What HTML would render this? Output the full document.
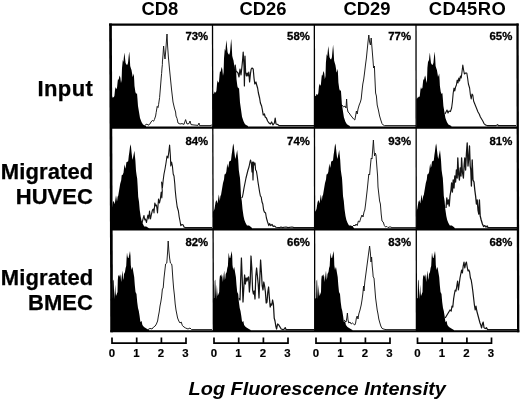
<!DOCTYPE html>
<html lang="en"><head><meta charset="utf-8"><title>Log Fluorescence Intensity histograms</title>
<style>
html,body{margin:0;padding:0;background:#fff;}
body{width:520px;height:402px;overflow:hidden;}
svg{display:block;}
svg text{font-family:"Liberation Sans",Arial,Helvetica,sans-serif;font-weight:bold;fill:#000;}
.f{fill:#000;stroke:none;}
.l{fill:none;stroke:#141414;stroke-linejoin:round;}
.ti{font-size:18.4px;text-anchor:middle;}
.pc{font-size:11.4px;text-anchor:end;stroke:#000;stroke-width:0.3px;}
.ax{font-size:11.4px;text-anchor:middle;stroke:#000;stroke-width:0.2px;}
.rl{font-size:22px;text-anchor:end;stroke:#000;stroke-width:0.25px;}
.xl{font-size:18px;font-style:italic;}
</style></head><body>
<svg width="520" height="402" viewBox="0 0 520 402">
<rect width="520" height="402" fill="#fff"/>
<defs>
<clipPath id="c00"><rect x="110.5" y="24.6" width="102.3" height="103"/></clipPath>
<clipPath id="c01"><rect x="212.8" y="24.6" width="101.8" height="103"/></clipPath>
<clipPath id="c02"><rect x="314.6" y="24.6" width="101.6" height="103"/></clipPath>
<clipPath id="c03"><rect x="416.2" y="24.6" width="101.8" height="103"/></clipPath>
<clipPath id="c10"><rect x="110.5" y="127.6" width="102.3" height="101.7"/></clipPath>
<clipPath id="c11"><rect x="212.8" y="127.6" width="101.8" height="101.7"/></clipPath>
<clipPath id="c12"><rect x="314.6" y="127.6" width="101.6" height="101.7"/></clipPath>
<clipPath id="c13"><rect x="416.2" y="127.6" width="101.8" height="101.7"/></clipPath>
<clipPath id="c20"><rect x="110.5" y="229.3" width="102.3" height="102"/></clipPath>
<clipPath id="c21"><rect x="212.8" y="229.3" width="101.8" height="102"/></clipPath>
<clipPath id="c22"><rect x="314.6" y="229.3" width="101.6" height="102"/></clipPath>
<clipPath id="c23"><rect x="416.2" y="229.3" width="101.8" height="102"/></clipPath>
</defs>
<g id="histograms">
<g clip-path="url(#c00)">
<path class="f" d="M110.5,128 L110.5,99 L112.2,98 L112.6,96.5 L113.5,97.5 L114.4,96 L115,90 L115.6,87 L116.2,89 L117,88 L117.6,82 L118,79 L118.6,80 L119.2,77 L119.8,75.5 L120.4,78 L121,83 L121.6,80 L122,68 L122.8,60 L123.4,62 L124,56 L124.5,52.5 L125,58 L125.6,63 L126.4,64.5 L127.2,65 L128,63 L128.6,57 L129.2,51.5 L129.7,57 L130.2,66 L130.8,68 L131.5,70 L132.2,74 L132.6,77 L133.2,75.5 L133.8,73.5 L134.2,80 L134.5,86 L135.4,92 L136.2,94 L137,93 L137.4,98 L138,106 L139,112 L140,118 L141.5,122 L143,124.5 L145,125.5 L146,126 L146,128Z"/>
<path class="l" stroke-width="0.95" d="M145,125.2 L147,124 L148,125.2 L149.6,124.4 L151,122 L152.4,120.4 L153.6,121.2 L154.4,119.6 L155.6,116 L156.2,112.4 L157.2,106.4 L158,107.6 L158.6,104.4 L159.6,97.6 L160.4,88 L161.2,78 L161.6,73.6 L162,68 L162.4,64.4 L162.4,62 L163,55 L163.6,46 L164.3,54 L165,59 L165.8,50 L166.5,40 L167,34 L167.6,46 L168.4,57 L169.4,68 L170.4,78 L171.6,90 L173,102 L174.4,108 L175.6,112 L176,116 L177,118.4 L178,123 L180,124 L182,123.6 L184,124.4 L185.6,119.6 L187,124 L189,123.6 L190,121 L191,124.6 L194,125 L198,125.4 L199,123 L199.6,125.6 L210,125.6 L212,125"/>
</g>
<g clip-path="url(#c01)">
<path class="f" d="M212.8,128 L212.8,94.24 L214.2,93.24 L214.6,91.48 L215.5,92.66 L216.4,90.9 L217,83.88 L217.6,80.37 L218.2,82.71 L219,81.54 L219.6,74.52 L220,71.01 L220.6,72.18 L221.2,68.67 L221.8,66.92 L222.4,69.84 L223,75.69 L223.6,72.18 L224,58.14 L224.8,48.78 L225.4,51.12 L226,44.1 L226.5,40.01 L227,46.44 L227.6,52.29 L228.4,54.05 L229.2,54.63 L230,52.29 L230.6,45.27 L231.2,38.84 L231.7,45.27 L232.2,55.8 L232.8,58.14 L233.5,60.48 L234.2,65.16 L234.6,68.67 L235.2,66.92 L235.8,64.58 L236.2,72.18 L236.5,79.2 L237.4,86.22 L238.2,88.56 L239,87.39 L239.4,93.24 L240,102.6 L241,109.62 L242,116.64 L243.5,121.32 L245,124.25 L247,125.42 L248,126 L248,128Z"/>
<path class="l" stroke-width="1.2" d="M234.4,69 L235.2,65 L236,71 L237,72 L238,73 L239,77 L240,69 L241,75 L242,66 L242.6,60 L243.2,52 L244,66 L244.4,86 L245,56 L245.6,72 L246.4,76 L247.2,73 L248,76 L248.8,72 L249.6,82 L250.4,74 L251.2,69 L252,68 L253.2,69 L254,78 L254.8,84 L256,82 L256.4,84 L257.6,88 L258.4,93 L259.6,98 L260.4,103 L261.6,106 L262.4,110 L263.2,115 L264.4,114 L265.2,117 L266.4,118 L267.6,121 L269,123 L270.4,124 L271.6,122 L273,125 L274.4,123 L275.2,118 L276,124 L278,124.6 L279,125.6 L292,125.6 L314,125.6"/>
</g>
<g clip-path="url(#c02)">
<path class="f" d="M314.6,128 L314.6,96.48 L316.1,95.48 L316.5,93.84 L317.4,94.94 L318.3,93.3 L318.9,86.76 L319.5,83.49 L320.1,85.67 L320.9,84.58 L321.5,78.04 L321.9,74.77 L322.5,75.86 L323.1,72.59 L323.7,70.95 L324.3,73.68 L324.9,79.13 L325.5,75.86 L325.9,62.78 L326.7,54.06 L327.3,56.24 L327.9,49.7 L328.4,45.88 L328.9,51.88 L329.5,57.33 L330.3,58.96 L331.1,59.51 L331.9,57.33 L332.5,50.79 L333.1,44.79 L333.6,50.79 L334.1,60.6 L334.7,62.78 L335.4,64.96 L336.1,69.32 L336.5,72.59 L337.1,70.95 L337.7,68.78 L338.1,75.86 L338.4,82.4 L339.3,88.94 L340.1,91.12 L340.9,90.03 L341.3,95.48 L341.9,104.2 L342.9,110.74 L343.9,117.28 L345.4,121.64 L346.9,124.36 L348.9,125.45 L349.9,126 L349.9,128Z"/>
<path class="l" stroke-width="0.95" d="M342,105 L343.6,107 L345,106 L346,108 L346.6,99 L347.2,108 L348,112 L349.2,113 L350.4,115 L352,117 L353.6,119 L354.8,120 L355.6,116 L356.4,111 L357.2,114 L358,109 L359.2,105 L360.4,102 L361.2,99 L362,91 L362.8,84 L363.6,80 L364.4,74 L365.6,64 L366.4,58 L367.2,50 L368,42 L368.8,35 L369.6,42 L370.4,45 L371.2,38 L372,48 L372.8,58 L373.6,68 L374.4,66 L374.8,76 L375.6,93 L376.4,96 L377.2,105 L378.4,110 L379.6,116 L380.8,120 L382,123.6 L383.2,125 L384.4,125.6 L416,125.6"/>
</g>
<g clip-path="url(#c03)">
<path class="f" d="M416.2,128 L416.2,99 L417.6,98 L418,96.5 L418.9,97.5 L419.8,96 L420.4,90 L421,87 L421.6,89 L422.4,88 L423,82 L423.4,79 L424,80 L424.6,77 L425.2,75.5 L425.8,78 L426.4,83 L427,80 L427.4,68 L428.2,60 L428.8,62 L429.4,56 L429.9,52.5 L430.4,58 L431,63 L431.8,64.5 L432.6,65 L433.4,63 L434,57 L434.6,51.5 L435.1,57 L435.6,66 L436.2,68 L436.9,70 L437.6,74 L438,77 L438.6,75.5 L439.2,73.5 L439.6,80 L439.9,86 L440.8,92 L441.6,94 L442.4,93 L442.8,98 L443.4,106 L444.4,112 L445.4,118 L446.9,122 L448.4,124.5 L450.4,125.5 L451.4,126 L451.4,128Z"/>
<path class="l" stroke-width="1.1" d="M445,114 L446,112 L447,110 L448,113 L449,111 L450.4,111.6 L451.6,108 L452.4,102 L453.2,93 L454,88 L454.8,91 L455.6,87 L456.4,85 L457.2,80 L458,83 L458.8,78 L459.6,81 L460.4,76 L461.2,78 L462,72 L462.8,65 L463.6,70 L464.4,74 L465.6,73 L466.8,73 L467.6,78 L468.4,84 L469.6,88 L470.4,95 L471.2,99 L472,94 L472.8,95 L473.6,101 L474.4,103 L475.6,106 L476.8,109 L478,112 L479.2,114 L480.4,117 L481.6,119 L482.8,121 L484,123.6 L485.6,125 L487.2,125.6 L496,125.6 L497.6,124.6 L498.4,125.6 L516,125.6"/>
</g>
<g clip-path="url(#c10)">
<path class="f" d="M110.5,230 L110.5,212.8 L110.8,211.8 L111.7,209.8 L112.8,202.8 L113.7,200.8 L114.7,204.3 L115.5,198.8 L116,195.3 L116.6,198.8 L117,201.8 L117.6,196.8 L118.2,195.8 L119.2,189.8 L120.2,183.8 L121.2,180.3 L121.7,175.3 L122.7,174.8 L123.5,172.8 L124.2,166.8 L124.7,164.3 L125.2,168.8 L125.8,166.8 L126.4,162.3 L127.4,161.8 L128.2,161.3 L128.8,155.8 L129.4,151.8 L130,146.8 L130.5,144.3 L131,146.8 L131.6,152.8 L132.2,157.8 L132.7,159.8 L133.2,156.8 L133.8,153.8 L134.4,150.8 L134.9,155.8 L135.4,160.8 L136,170.8 L136.7,175.8 L137.2,178.8 L137.7,186.8 L138.2,196.8 L139,201.8 L139.7,209.8 L140.7,216.8 L141.6,220.8 L142.8,223.8 L144.2,226.4 L146.2,226.4 L148.2,227.8 L149.2,228.8 L149.2,230Z"/>
<path class="l" stroke-width="1.1" d="M142,223 L143,219 L144,215.5 L144.8,220 L145.5,219 L146.5,222.5 L147.5,217 L148,215 L148.8,219 L149.5,211 L150.5,219 L151.5,214 L152.5,210 L153.5,209 L154,213 L154.8,203 L155.8,206 L156.5,205 L157.5,213 L158.5,199 L159.5,203 L160.2,200 L161.2,192 L161.8,198 L162.3,191 L161.6,182 L162.4,188 L163.2,180 L164,174 L165,169 L166,163 L167,156 L168,158 L168.8,152 L169.6,145 L170.4,156 L170.8,166 L171.6,162 L172.4,166 L173.2,174 L174,176 L174.8,184 L175.2,190 L176,198 L177.2,207 L178.4,211 L179.2,217 L180,221 L180.8,225.6 L182,224.4 L183.2,225 L184,227 L185.2,227.6 L212,227.6"/>
</g>
<g clip-path="url(#c11)">
<path class="f" d="M212.8,230 L212.8,212 L213.6,211 L214.5,209 L215.6,202 L216.5,200 L217.5,203.5 L218.3,198 L218.8,194.5 L219.4,198 L219.8,201 L220.4,196 L221,195 L222,189 L223,183 L224,179.5 L224.5,174.5 L225.5,174 L226.3,172 L227,166 L227.5,163.5 L228,168 L228.6,166 L229.2,161.5 L230.2,161 L231,160.5 L231.6,155 L232.2,151 L232.8,146 L233.3,143.5 L233.8,146 L234.4,152 L235,157 L235.5,159 L236,156 L236.6,153 L237.2,150 L237.7,155 L238.2,160 L238.8,170 L239.5,175 L240,178 L240.5,186 L241,196 L241.8,201 L242.5,209 L243.5,216 L244.4,220 L245.6,223 L247,225.6 L249,225.6 L251,227 L252,228 L252,230Z"/>
<path class="l" stroke-width="1.15" d="M241.6,198 L242.4,197 L243.2,193 L244,188 L245,183 L246,178 L247,174 L248,170 L249,167 L250,162 L250.6,160 L251.4,164 L252,172 L252.4,162 L253,180 L253.6,162 L254.4,165 L255,163 L255.6,170 L256.4,171 L257.2,176 L258,182 L258.8,187 L259.6,192 L260.4,196 L261.2,197 L262,202 L262.8,204 L263.6,210 L264.4,212 L265.6,213 L266.4,218 L267.6,222 L268.8,225.6 L269.6,223.6 L270.8,225.6 L272,224.4 L273.2,226.4 L274.4,226 L276,227.2 L280,227.6 L281,227 L282,227.6 L286,227 L288,227.6 L292,227 L294,227.6 L314,227.6"/>
</g>
<g clip-path="url(#c12)">
<path class="f" d="M314.6,230 L314.6,212 L315.6,211 L316.5,209 L317.6,202 L318.5,200 L319.5,203.5 L320.3,198 L320.8,194.5 L321.4,198 L321.8,201 L322.4,196 L323,195 L324,189 L325,183 L326,179.5 L326.5,174.5 L327.5,174 L328.3,172 L329,166 L329.5,163.5 L330,168 L330.6,166 L331.2,161.5 L332.2,161 L333,160.5 L333.6,155 L334.2,151 L334.8,146 L335.3,143.5 L335.8,146 L336.4,152 L337,157 L337.5,159 L338,156 L338.6,153 L339.2,150 L339.7,155 L340.2,160 L340.8,170 L341.5,175 L342,178 L342.5,186 L343,196 L343.8,201 L344.5,209 L345.5,216 L346.4,220 L347.6,223 L349,225.6 L351,225.6 L353,227 L354,228 L354,230Z"/>
<path class="l" stroke-width="0.95" d="M352,227 L354,225 L355,226 L356,224 L357.2,225.6 L358.4,221 L359.6,222 L360.8,218 L362,215 L363,217 L364,212 L364.8,210 L365.6,204 L366.4,197 L367.2,190 L368,182 L368.8,174 L369.6,175 L370.4,166 L371.2,158 L372,159 L372.8,148 L373.4,140 L374,150 L374.6,156 L375.2,153 L376,155 L376.8,166 L377.6,176 L378,187 L378.8,194 L379.6,201 L380.4,204 L381.2,214 L382,221 L383.2,222 L384.4,225.6 L385.6,227 L386.8,226.4 L388,227.6 L390,226.8 L392,227.6 L416,227.6"/>
</g>
<g clip-path="url(#c13)">
<path class="f" d="M416.2,230 L416.2,212 L416.4,211 L417.3,209 L418.4,202 L419.3,200 L420.3,203.5 L421.1,198 L421.6,194.5 L422.2,198 L422.6,201 L423.2,196 L423.8,195 L424.8,189 L425.8,183 L426.8,179.5 L427.3,174.5 L428.3,174 L429.1,172 L429.8,166 L430.3,163.5 L430.8,168 L431.4,166 L432,161.5 L433,161 L433.8,160.5 L434.4,155 L435,151 L435.6,146 L436.1,143.5 L436.6,146 L437.2,152 L437.8,157 L438.3,159 L438.8,156 L439.4,153 L440,150 L440.5,155 L441,160 L441.6,170 L442.3,175 L442.8,178 L443.3,186 L443.8,196 L444.6,201 L445.3,209 L446.3,216 L447.2,220 L448.4,223 L449.8,225.6 L451.8,225.6 L453.8,227 L454.8,228 L454.8,230Z"/>
<path class="l" stroke-width="1.3" d="M446,208 L446.8,198 L447.6,204 L448.4,200 L449.2,206 L450,196 L451,190 L451.6,183 L452.4,192 L453.2,180 L454,188 L454.8,176 L455.6,182 L456.4,170 L457.2,178 L457.8,158 L458.6,174 L459.4,180 L460.2,168 L461,176 L461.6,158 L462.4,172 L463.4,178 L464.2,164 L464.8,158 L465.6,170 L466.4,154 L467.2,143 L468,166 L468.6,160 L469.5,146 L470.2,166 L470.8,170 L471.4,186 L472.2,160 L473,180 L474,182 L474.8,190 L475.6,196 L476.4,204 L477.2,200 L478,210 L478.8,214 L479.4,200 L480.2,216 L481.2,220 L482.4,224 L483.6,226.6 L484.8,225.6 L486,227 L487.2,226 L488,227.6 L518,227.6"/>
</g>
<g clip-path="url(#c20)">
<path class="f" d="M110.5,332 L110.5,299 L112.6,298 L113,281 L113.6,279.5 L114,290 L114.4,299 L114.9,290 L115.2,284.5 L115.6,292 L116,296 L116.8,294 L117.5,292 L117.8,280 L118.2,276 L119,275 L119.6,277 L120,274 L120.6,276 L121.2,282 L121.8,276 L122.5,270.5 L123.2,280 L123.6,278 L124,274 L125,272 L125.6,268 L126.2,266 L126.6,258 L127,252.5 L127.5,256 L128,258 L128.6,258 L129.4,254 L130,251 L130.5,256 L130.8,265 L131.5,270 L132,268 L132.5,267 L133,270 L133.5,273 L134.2,277 L134.8,285 L135.5,292 L136.5,294 L137.2,302 L138,308 L138.8,311 L139.6,316 L140.4,322 L141.6,321 L142.4,325 L144,327 L145.6,328 L147.2,329 L149,330 L149,332Z"/>
<path class="l" stroke-width="0.95" d="M148,329.6 L150,328.4 L152,329 L153.6,327 L155.2,326 L156.4,324 L157.6,321 L158.4,316 L159.2,312 L160,306 L160.8,302 L161.6,297 L162.4,289 L163.2,288 L164,278 L164.8,271 L165.6,264 L166.8,263 L167.6,252 L168.2,241 L168.8,250 L169.6,258 L170.4,263 L171.6,264 L172,266 L172.8,278 L173.6,288 L174.4,295 L175.2,304 L176,310 L176.8,314 L177.6,318 L178.8,321 L180,323 L181.2,322 L182.4,325.6 L184,327 L185.6,328 L188,329 L190,328 L191.6,329.6 L212,329.6"/>
</g>
<g clip-path="url(#c21)">
<path class="f" d="M212.8,332 L212.8,299 L214.3,298 L214.7,281 L215.3,279.5 L215.7,290 L216.1,299 L216.6,290 L216.9,284.5 L217.3,292 L217.7,296 L218.5,294 L219.2,292 L219.5,280 L219.9,276 L220.7,275 L221.3,277 L221.7,274 L222.3,276 L222.9,282 L223.5,276 L224.2,270.5 L224.9,280 L225.3,278 L225.7,274 L226.7,272 L227.3,268 L227.9,266 L228.3,258 L228.7,252.5 L229.2,256 L229.7,258 L230.3,258 L231.1,254 L231.7,251 L232.2,256 L232.5,265 L233.2,270 L233.7,268 L234.2,267 L234.7,270 L235.2,273 L235.9,277 L236.5,285 L237.2,292 L238.2,294 L238.9,302 L239.7,308 L240.5,311 L241.3,316 L242.1,322 L243.3,321 L244.1,325 L245.7,327 L247.3,328 L248.9,329 L250.7,330 L250.7,332Z"/>
<path class="l" stroke-width="1.25" d="M239.2,298 L240,300 L240.6,282 L241.4,258 L242.2,278 L243,302 L243.8,288 L244.6,275 L245.4,284 L246.2,278 L247,281 L247.8,278 L248.6,277 L249.4,292 L250.2,282 L251,256 L251.8,268 L252.6,290 L253.4,294 L254.2,291 L255,299 L255.8,276 L256.6,268 L257.4,276 L258.2,284 L259,298 L259.8,278 L260.6,260 L261.4,272 L262.2,286 L263,290 L263.8,282 L264.6,286 L265.4,292 L266.2,303 L267,302 L267.8,292 L268.6,287 L269.4,298 L270.2,307 L271,304 L271.8,305 L272.6,300 L273.4,304 L274.2,318 L275,321 L275.8,326 L276.6,329 L277.6,324 L278.8,325 L280,327 L281.2,329 L283,329.6 L284.4,329 L285.2,327.6 L286,329.6 L314,329.6"/>
</g>
<g clip-path="url(#c22)">
<path class="f" d="M314.6,332 L314.6,299 L316.1,298 L316.5,281 L317.1,279.5 L317.5,290 L317.9,299 L318.4,290 L318.7,284.5 L319.1,292 L319.5,296 L320.3,294 L321,292 L321.3,280 L321.7,276 L322.5,275 L323.1,277 L323.5,274 L324.1,276 L324.7,282 L325.3,276 L326,270.5 L326.7,280 L327.1,278 L327.5,274 L328.5,272 L329.1,268 L329.7,266 L330.1,258 L330.5,252.5 L331,256 L331.5,258 L332.1,258 L332.9,254 L333.5,251 L334,256 L334.3,265 L335,270 L335.5,268 L336,267 L336.5,270 L337,273 L337.7,277 L338.3,285 L339,292 L340,294 L340.7,302 L341.5,308 L342.3,311 L343.1,316 L343.9,322 L345.1,321 L345.9,325 L347.5,327 L349.1,328 L350.7,329 L352.5,330 L352.5,332Z"/>
<path class="l" stroke-width="0.95" d="M344,320 L345.2,321 L346,322 L346.8,318 L347.4,313 L348,320 L348.8,323 L350,322 L351.2,324 L352.4,323 L353.6,324 L354.8,325 L355.6,323 L356.4,318 L357.2,316 L358,319 L358.8,314 L360,310 L361.2,305 L362,300 L362.8,294 L363.6,286 L364,291 L364.8,282 L365.6,276 L366.4,270 L367.2,264 L368,258 L368.8,252 L369.6,246 L370.4,253 L371,262 L371.6,257 L372.2,266 L372.8,272 L373.2,277 L374,278 L374.8,288 L375.6,298 L376.4,304 L377.2,310 L378,314 L378.8,319 L379.6,322 L380.8,326 L382,328.4 L384,329.2 L386,329.6 L416,329.6"/>
</g>
<g clip-path="url(#c23)">
<path class="f" d="M416.2,332 L416.2,299 L417.6,298 L418,281 L418.6,279.5 L419,290 L419.4,299 L419.9,290 L420.2,284.5 L420.6,292 L421,296 L421.8,294 L422.5,292 L422.8,280 L423.2,276 L424,275 L424.6,277 L425,274 L425.6,276 L426.2,282 L426.8,276 L427.5,270.5 L428.2,280 L428.6,278 L429,274 L430,272 L430.6,268 L431.2,266 L431.6,258 L432,252.5 L432.5,256 L433,258 L433.6,258 L434.4,254 L435,251 L435.5,256 L435.8,265 L436.5,270 L437,268 L437.5,267 L438,270 L438.5,273 L439.2,277 L439.8,285 L440.5,292 L441.5,294 L442.2,302 L443,308 L443.8,311 L444.6,316 L445.4,322 L446.6,321 L447.4,325 L449,327 L450.6,328 L452.2,329 L454,330 L454,332Z"/>
<path class="l" stroke-width="1.2" d="M445.2,318 L446.4,316 L447.6,314 L448.8,312 L450,310 L451.2,311 L452,306 L452.8,307 L453.6,299 L454.4,294 L455.2,290 L456,291 L456.8,286 L457.6,281 L458.4,290 L459.2,284 L460,278 L460.8,274 L461.6,270 L462.4,273 L463.2,266 L464,262 L464.8,268 L465.6,264 L466.4,262 L467.2,267 L468,271 L468.8,270 L469.6,272 L470.4,278 L471.2,280 L472,285 L472.8,291 L473.6,298 L474.4,305 L475.2,310 L476,306 L476.8,311 L477.6,314 L478.4,317 L479.2,320 L480,323 L480.8,325 L481.6,328 L482.4,324 L483.2,322 L484,327.6 L485.2,328.6 L486.4,327.6 L487.6,329.6 L518,329.6"/>
</g>
</g>
<g id="frame" fill="none" stroke="#000">
<line x1="110.5" y1="23.5" x2="111.7" y2="332.35" stroke-width="2.7"/>
<line x1="517.5" y1="23.5" x2="518.2" y2="332.35" stroke-width="2.3"/>
<line x1="109.15" y1="24.6" x2="518.65" y2="24.6" stroke-width="2.2"/>
<line x1="110.35000000000001" y1="331.3" x2="519.35" y2="331.3" stroke-width="2.1"/>
<line x1="212.5" y1="24.6" x2="213.4" y2="331.3" stroke-width="1.3"/>
<line x1="314.35" y1="24.6" x2="314.75" y2="331.3" stroke-width="1.3"/>
<line x1="416.0" y1="24.6" x2="416.4" y2="331.3" stroke-width="1.3"/>
<line x1="110.5" y1="127.6" x2="518.0" y2="127.6" stroke-width="2.2"/>
<line x1="110.5" y1="229.3" x2="518.0" y2="229.3" stroke-width="2.2"/>
</g>
<g id="axes">
<path d="M112,337.4 V343.1 H186 V337.4 M136.7,337.4 V343.1 M161.4,337.4 V343.1" fill="none" stroke="#000" stroke-width="1.7"/>
<text x="111.9" y="356.7" class="ax">0</text>
<text x="136.4" y="356.7" class="ax">1</text>
<text x="160.9" y="356.7" class="ax">2</text>
<text x="185.4" y="356.7" class="ax">3</text>
<path d="M214,337.4 V343.1 H288 V337.4 M238.7,337.4 V343.1 M263.4,337.4 V343.1" fill="none" stroke="#000" stroke-width="1.7"/>
<text x="213.9" y="356.7" class="ax">0</text>
<text x="238.4" y="356.7" class="ax">1</text>
<text x="262.9" y="356.7" class="ax">2</text>
<text x="287.4" y="356.7" class="ax">3</text>
<path d="M316,337.4 V343.1 H390 V337.4 M340.7,337.4 V343.1 M365.4,337.4 V343.1" fill="none" stroke="#000" stroke-width="1.7"/>
<text x="315.9" y="356.7" class="ax">0</text>
<text x="340.4" y="356.7" class="ax">1</text>
<text x="364.9" y="356.7" class="ax">2</text>
<text x="389.4" y="356.7" class="ax">3</text>
<path d="M417.5,337.4 V343.1 H491.5 V337.4 M442.2,337.4 V343.1 M466.9,337.4 V343.1" fill="none" stroke="#000" stroke-width="1.7"/>
<text x="417.4" y="356.7" class="ax">0</text>
<text x="441.9" y="356.7" class="ax">1</text>
<text x="466.4" y="356.7" class="ax">2</text>
<text x="490.9" y="356.7" class="ax">3</text>
</g>
<text x="159.8" y="15" class="ti">CD8</text>
<text x="263" y="15" class="ti">CD26</text>
<text x="367" y="15" class="ti">CD29</text>
<text x="467.6" y="15" class="ti" letter-spacing="0.5">CD45RO</text>
<text x="208.2" y="40.2" class="pc">73%</text>
<text x="309.9" y="40.2" class="pc">58%</text>
<text x="411.1" y="40.2" class="pc">77%</text>
<text x="512.3" y="40.2" class="pc">65%</text>
<text x="208.2" y="144.6" class="pc">84%</text>
<text x="309.9" y="144.6" class="pc">74%</text>
<text x="411.1" y="144.6" class="pc">93%</text>
<text x="512.3" y="144.6" class="pc">81%</text>
<text x="208.2" y="246.2" class="pc">82%</text>
<text x="309.9" y="246.2" class="pc">66%</text>
<text x="411.1" y="246.2" class="pc">83%</text>
<text x="512.3" y="246.2" class="pc">68%</text>
<text x="93.4" y="95.8" class="rl" letter-spacing="0.45">Input</text>
<text x="93.3" y="178.6" class="rl" letter-spacing="0.1">Migrated</text>
<text x="92.8" y="203.5" class="rl">HUVEC</text>
<text x="93.3" y="284.6" class="rl" letter-spacing="0.1">Migrated</text>
<text x="92.8" y="309.6" class="rl">BMEC</text>
<text transform="translate(188.6,395.4) scale(1.105,1)" class="xl">Log Fluorescence Intensity</text>
</svg>
</body></html>
